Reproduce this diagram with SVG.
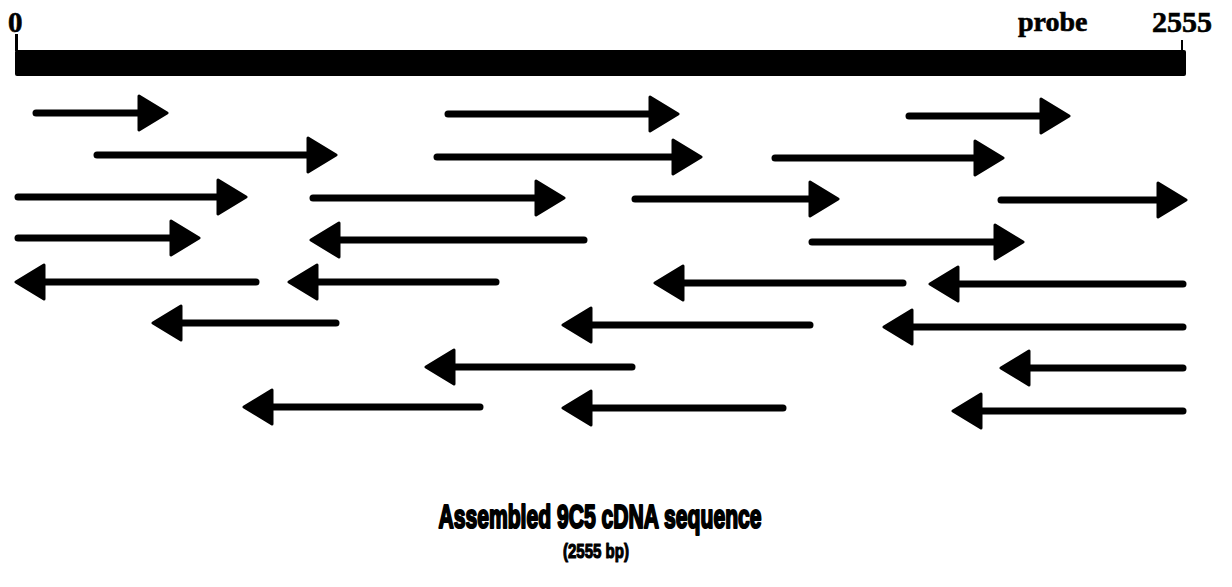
<svg xmlns="http://www.w3.org/2000/svg" width="1232" height="587" viewBox="0 0 1232 587">
<style>
.lbl{font-family:"Liberation Serif","Times New Roman",serif;font-weight:bold;fill:#000;stroke:#000;stroke-width:0.6}
.cap{font-family:"Liberation Sans",Arial,sans-serif;font-weight:bold;fill:#000;stroke:#000;stroke-linejoin:round;text-anchor:middle}
.ln{stroke:#000;stroke-width:7;fill:none;stroke-linecap:round;marker-end:url(#ah)}
</style>
<defs>
<marker id="ah" markerUnits="userSpaceOnUse" viewBox="0 0 32 38" markerWidth="32" markerHeight="38" refX="11" refY="19" orient="auto">
<path d="M2,2 L30,19 L2,36 Z" fill="#000" stroke="#000" stroke-width="3" stroke-linejoin="round"/>
</marker>
</defs>
<rect width="1232" height="587" fill="#fff"/>
<g id="sequence-bar">
<rect x="15" y="50" width="1171" height="26" rx="2" fill="#000"/>
<line x1="16.5" y1="34" x2="16.5" y2="51" stroke="#000" stroke-width="3"/>
<line x1="1182" y1="40" x2="1182" y2="51" stroke="#000" stroke-width="2"/>
<text class="lbl" x="8" y="32" font-size="29">0</text>
<text class="lbl" x="1018" y="31" font-size="28">probe</text>
<text class="lbl" x="1152" y="32" font-size="30">2555</text>
</g>
<g id="connectors">
<line class="ln" x1="36" y1="113" x2="148" y2="113"/>
<line class="ln" x1="97" y1="155" x2="317" y2="155"/>
<line class="ln" x1="18" y1="197" x2="227" y2="197"/>
<line class="ln" x1="18" y1="238" x2="180" y2="238"/>
<line class="ln" x1="448" y1="114" x2="659" y2="114"/>
<line class="ln" x1="437" y1="157" x2="682" y2="157"/>
<line class="ln" x1="313" y1="198" x2="545" y2="198"/>
<line class="ln" x1="635" y1="199" x2="819" y2="199"/>
<line class="ln" x1="775" y1="158" x2="984" y2="158"/>
<line class="ln" x1="909" y1="116" x2="1050" y2="116"/>
<line class="ln" x1="1001" y1="200" x2="1167" y2="200"/>
<line class="ln" x1="812" y1="242" x2="1004" y2="242"/>
<line class="ln" x1="584" y1="240" x2="330" y2="240"/>
<line class="ln" x1="256" y1="282" x2="35" y2="282"/>
<line class="ln" x1="496" y1="282" x2="308" y2="282"/>
<line class="ln" x1="903" y1="283" x2="674" y2="283"/>
<line class="ln" x1="1183" y1="284" x2="949" y2="284"/>
<line class="ln" x1="336" y1="323" x2="172" y2="323"/>
<line class="ln" x1="810" y1="325" x2="582" y2="325"/>
<line class="ln" x1="1183" y1="327" x2="903" y2="327"/>
<line class="ln" x1="632" y1="367" x2="445" y2="367"/>
<line class="ln" x1="1183" y1="368" x2="1020" y2="368"/>
<line class="ln" x1="480" y1="407" x2="263" y2="407"/>
<line class="ln" x1="783" y1="408" x2="582" y2="408"/>
<line class="ln" x1="1183" y1="411" x2="972" y2="411"/>
</g>
<g id="caption">
<text class="cap" x="600" y="528" font-size="34" stroke-width="2.2" textLength="323" lengthAdjust="spacingAndGlyphs">Assembled 9C5 cDNA sequence</text>
<text class="cap" x="596" y="558" font-size="21" stroke-width="1.2" textLength="66" lengthAdjust="spacingAndGlyphs">(2555 bp)</text>
</g>
</svg>
